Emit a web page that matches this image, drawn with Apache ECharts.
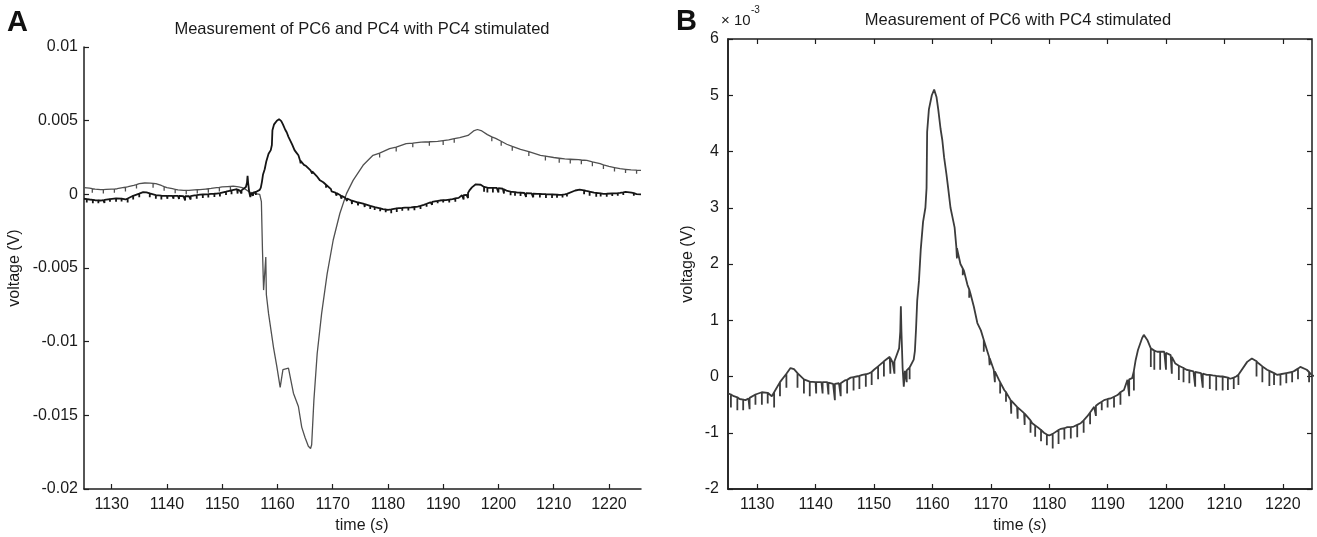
<!DOCTYPE html>
<html>
<head>
<meta charset="utf-8">
<script src="https://cdn.jsdelivr.net/npm/echarts@6/dist/echarts.min.js"></script>
<style>
html,body{margin:0;padding:0;background:#fff;}
#c{width:1317px;height:537px;}
</style>
</head>
<body>
<div id="c"></div>
<script>
// ---------- DATA (voltages in mV; time in s) ----------
// PC6 response (panel B, and dark trace of panel A): [time, mV]
const pc6Base = [
 [1125,-0.3],[1126,-0.35],[1127,-0.4],[1128,-0.42],[1128.5,-0.39],[1129,-0.35],[1130,-0.3],[1131,-0.27],
 [1132,-0.3],[1132.5,-0.35],[1133,-0.25],[1134,-0.08],[1135,0.05],[1135.7,0.15],[1136.3,0.13],[1137,0.05],
 [1138,-0.05],[1139,-0.09],[1140,-0.1],[1141,-0.1],[1142,-0.1],[1143,-0.13],[1144,-0.12],[1145,-0.07],
 [1146,-0.02],[1147,0.0],[1148,0.03],[1149,0.05],[1150,0.12],[1151,0.2],[1152,0.3],[1152.7,0.35],
 [1153.2,0.25],[1153.8,0.3],[1154.3,0.5],[1154.5,0.8],[1154.6,1.25],[1154.7,0.8],[1154.9,0.15],[1155.1,-0.18],
 [1155.3,0.1],[1155.8,0.12],[1156.3,0.18],[1156.8,0.3],[1157.0,0.45],[1157.2,0.85],[1157.4,1.35],[1157.7,1.7],
 [1158.0,2.25],[1158.4,2.75],[1158.8,3.0],[1159.0,3.35],[1159.1,4.35],[1159.4,4.75],[1159.9,5.0],[1160.3,5.1],
 [1160.7,4.97],[1161.0,4.75],[1161.4,4.4],[1161.7,4.2],[1162.0,3.9],[1162.4,3.6],[1162.7,3.35],[1163.1,3.0],
 [1163.4,2.85],[1163.8,2.65],[1164.1,2.3],[1164.8,2.0],[1165.4,1.88],[1166.0,1.63],[1166.5,1.48],[1167.1,1.24],
 [1167.7,0.95],[1168.3,0.82],[1168.8,0.65],[1169.7,0.35],[1170.5,0.12],[1171.4,-0.06],[1172.3,-0.24],[1173.4,-0.42],
 [1174.5,-0.54],[1175.7,-0.65],[1177.1,-0.83],[1178,-0.9],[1179.1,-1.0],[1180,-1.05],[1180.8,-1.0],[1182,-0.93],
 [1183.1,-0.9],[1184.2,-0.89],[1185.4,-0.83],[1186.5,-0.71],[1187.7,-0.54],[1188.5,-0.48],[1189.4,-0.42],[1190.5,-0.39],
 [1191.7,-0.33],[1192.8,-0.24],[1193.4,-0.06],[1194.2,-0.03],[1194.8,0.29],[1195.2,0.47],[1195.9,0.68],[1196.2,0.74],
 [1196.8,0.65],[1197.4,0.5],[1198.5,0.44],[1199.7,0.44],[1200.8,0.38],[1201.6,0.23],[1202.5,0.17],[1203.5,0.12],
 [1204.7,0.09],[1206,0.06],[1207,0.03],[1208,0.02],[1209.3,0.0],[1210,0.0],[1211,-0.04],[1212,0.0],
 [1212.7,0.06],[1213.9,0.26],[1214.7,0.32],[1215.9,0.23],[1217.3,0.12],[1219,0.03],[1220.7,0.06],[1222,0.1],
 [1223,0.17],[1224.1,0.12],[1225,0.02],[1225.8,0.0]
];
// PC6 downward noise spikes: [time, level, spike bottom] in mV
const pc6Spikes = [
 [1125.5,-0.32,-0.55],[1126.6,-0.37,-0.6],[1127.6,-0.41,-0.6],[1128.7,-0.38,-0.58],[1129.7,-0.32,-0.5],
 [1130.8,-0.28,-0.5],[1131.8,-0.29,-0.48],[1132.9,-0.28,-0.55],[1133.9,-0.1,-0.35],[1135.0,0.05,-0.2],
 [1136.9,0.06,-0.2],[1138.0,-0.05,-0.3],[1139.0,-0.09,-0.35],[1140.1,-0.1,-0.3],[1141.2,-0.1,-0.3],
 [1142.2,-0.11,-0.32],[1143.3,-0.13,-0.42],[1144.3,-0.12,-0.35],[1145.4,-0.06,-0.3],[1146.5,-0.01,-0.25],
 [1147.5,0.01,-0.22],[1148.6,0.04,-0.18],[1149.6,0.08,-0.15],[1150.7,0.18,-0.05],[1151.7,0.27,0.0],
 [1152.8,0.33,0.05],[1153.5,0.27,0.05],[1155.6,0.11,-0.1],[1156.1,0.16,-0.05],
 [1164.2,2.28,2.1],[1165.2,1.92,1.8],[1166.3,1.55,1.4],[1168.8,0.65,0.44],[1169.8,0.33,0.2],
 [1170.7,0.09,-0.1],[1171.6,-0.1,-0.3],[1172.6,-0.28,-0.45],[1173.5,-0.43,-0.66],[1174.6,-0.55,-0.75],
 [1175.8,-0.66,-0.86],[1176.8,-0.78,-1.0],[1177.6,-0.87,-1.07],[1178.6,-0.95,-1.15],[1179.6,-1.03,-1.22],
 [1180.6,-1.02,-1.28],[1181.6,-0.95,-1.2],[1182.6,-0.92,-1.12],[1183.7,-0.9,-1.1],[1184.8,-0.86,-1.08],
 [1185.9,-0.78,-1.0],[1187.0,-0.64,-0.85],[1188.0,-0.52,-0.7],[1189.0,-0.45,-0.6],[1190.0,-0.4,-0.55],
 [1191.1,-0.36,-0.55],[1192.2,-0.28,-0.5],[1193.7,-0.05,-0.35],[1194.5,0.1,-0.25],[1197.4,0.5,0.17],
 [1198.0,0.46,0.12],[1199.0,0.44,0.12],[1200.0,0.42,0.12],[1201.0,0.35,0.05],[1202.2,0.19,-0.06],
 [1203.0,0.15,-0.1],[1204.0,0.11,-0.12],[1205.0,0.08,-0.18],[1206.3,0.05,-0.2],[1207.5,0.03,-0.22],
 [1208.6,0.01,-0.25],[1209.7,0.0,-0.25],[1210.6,-0.02,-0.24],[1211.6,-0.02,-0.22],[1212.4,0.03,-0.15],
 [1215.5,0.27,0.0],[1216.5,0.18,-0.1],[1217.7,0.1,-0.17],[1218.5,0.06,-0.15],[1219.6,0.04,-0.16],
 [1220.6,0.06,-0.12],[1221.6,0.08,-0.1],[1222.6,0.14,-0.05],[1224.5,0.08,-0.1]
];
// PC4 (stimulated) trace of panel A: [time, mV]
const pc4Base = [
 [1125,0.45],[1126,0.42],[1127,0.35],[1128,0.32],[1129,0.33],[1130,0.35],[1131,0.38],[1132,0.45],
 [1133,0.52],[1134,0.61],[1135,0.72],[1136,0.77],[1137,0.76],[1138,0.72],[1139,0.6],[1140,0.45],
 [1141,0.38],[1142,0.3],[1143,0.27],[1144,0.27],[1145,0.3],[1146,0.32],[1147,0.36],[1148,0.4],
 [1149,0.45],[1150,0.5],[1151,0.53],[1152,0.55],[1153,0.5],[1153.6,0.45],[1154.2,0.35],[1155,0.15],
 [1156,0.05],[1156.8,0.0],[1157.1,-0.5],[1157.3,-3.8],[1157.5,-6.5],[1157.9,-4.25],[1158.0,-6.8],[1158.4,-8.1],
 [1159.3,-10.4],[1159.9,-11.7],[1160.5,-13.1],[1161.0,-11.9],[1162,-11.8],[1162.9,-13.5],[1163.8,-14.4],[1164.4,-15.8],
 [1165,-16.5],[1165.6,-17.1],[1166.0,-17.25],[1166.2,-17.0],[1166.6,-14.0],[1167.2,-10.8],[1168.0,-8.1],[1169.0,-5.4],
 [1170.1,-3.1],[1171.3,-1.3],[1172.5,0.05],[1173.7,0.95],[1175.5,1.97],[1177.3,2.65],[1180.3,3.1],[1183.3,3.44],
 [1186,3.55],[1189,3.6],[1191,3.7],[1193,3.85],[1194.5,4.0],[1195.5,4.3],[1196.2,4.4],[1197,4.3],
 [1198,4.05],[1199.5,3.8],[1201.5,3.4],[1204,3.05],[1207.6,2.65],[1210,2.5],[1212,2.4],[1214.5,2.35],
 [1216,2.3],[1218.4,2.08],[1220,1.9],[1222,1.74],[1224,1.66],[1225.8,1.63]
];
const pc4Spikes = [
 [1126.5,0.38,0.1],[1128.5,0.32,0.05],[1130.5,0.36,0.1],[1132.5,0.48,0.2],[1134.5,0.66,0.4],
 [1137.5,0.74,0.45],[1139.5,0.52,0.25],[1141.5,0.34,0.08],[1143.5,0.27,0.0],[1145.5,0.31,0.05],
 [1147.5,0.38,0.1],[1149.5,0.47,0.2],[1151.5,0.54,0.3],[1178.5,2.8,2.5],[1181.5,3.2,2.9],
 [1184.5,3.48,3.2],[1187.5,3.57,3.3],[1190,3.65,3.35],[1192,3.78,3.5],[1198.8,3.9,3.6],
 [1200.5,3.6,3.3],[1202.5,3.25,2.95],[1205.5,2.9,2.6],[1208.5,2.6,2.3],[1211,2.45,2.15],
 [1213,2.38,2.1],[1215,2.33,2.05],[1217,2.2,1.9],[1219,2.0,1.72],[1221,1.82,1.55],
 [1223,1.7,1.45],[1225,1.64,1.4]
];
// tick values / labels
const timeTicks = [1130,1140,1150,1160,1170,1180,1190,1200,1210,1220];
const titleA = 'Measurement of PC6 and PC4 with PC4 stimulated';
const titleB = 'Measurement of PC6 with PC4 stimulated';
const yNameText = 'voltage (V)';

// ---------- build ----------
function build(base, spikes) {
  const pts = base.map(p => [p[0], p[1]]);
  spikes.forEach(s => { pts.push([s[0], s[1]], [s[0], s[2]], [s[0], s[1]]); });
  return pts.sort((a, b) => a[0] - b[0]);
}
const pc6 = build(pc6Base, pc6Spikes);
const pc4 = build(pc4Base, pc4Spikes);

const FONT = "'Liberation Sans', Arial, sans-serif";
const TXT = '#1a1a1a';
const AX = '#1e1e1e';
const lbl = {color: TXT, fontSize: 16, fontFamily: FONT};
const plain = v => String(v);

const chart = echarts.init(document.getElementById('c'), null, {renderer: 'canvas'});
chart.setOption({
  animation: false,
  backgroundColor: '#fff',
  grid: [
    {left: 84, top: 47, width: 557, height: 442, show: false},
    {left: 728, top: 39, width: 584, height: 450, show: true, borderColor: AX, borderWidth: 1.5, backgroundColor: 'transparent'}
  ],
  xAxis: [
    {gridIndex: 0, type: 'value', min: 1125, max: 1225.8, position: 'bottom',
     axisLine: {show: true, onZero: false, lineStyle: {color: AX, width: 1.5}},
     axisTick: {show: true, inside: true, length: 5, customValues: timeTicks, lineStyle: {color: AX, width: 1.2}},
     axisLabel: Object.assign({margin: 8, customValues: timeTicks, formatter: plain}, lbl),
     splitLine: {show: false}},
    {gridIndex: 1, type: 'value', min: 1125, max: 1225, position: 'bottom',
     axisLine: {show: true, onZero: false, lineStyle: {color: AX, width: 1.5}},
     axisTick: {show: true, inside: true, length: 5, customValues: timeTicks, lineStyle: {color: AX, width: 1.2}},
     axisLabel: Object.assign({margin: 8, customValues: timeTicks, formatter: plain}, lbl),
     splitLine: {show: false}},
    {gridIndex: 1, type: 'value', min: 1125, max: 1225, position: 'top',
     axisLine: {show: false, onZero: false},
     axisTick: {show: true, inside: true, length: 5, customValues: timeTicks, lineStyle: {color: AX, width: 1.2}},
     axisLabel: {show: false}, splitLine: {show: false}}
  ],
  yAxis: [
    {gridIndex: 0, type: 'value', min: -20, max: 10, interval: 5,
     axisLine: {show: true, onZero: false, lineStyle: {color: AX, width: 1.5}},
     axisTick: {show: true, inside: true, length: 5, lineStyle: {color: AX, width: 1.2}},
     axisLabel: Object.assign({margin: 6, formatter: v => String(v / 1000)}, lbl),
     splitLine: {show: false}},
    {gridIndex: 1, type: 'value', min: -2, max: 6, interval: 1,
     axisLine: {show: true, onZero: false, lineStyle: {color: AX, width: 1.5}},
     axisTick: {show: true, inside: true, length: 5, lineStyle: {color: AX, width: 1.2}},
     axisLabel: Object.assign({margin: 9, formatter: plain}, lbl),
     splitLine: {show: false}},
    {gridIndex: 1, type: 'value', min: -2, max: 6, interval: 1, position: 'right',
     axisLine: {show: false, onZero: false},
     axisTick: {show: true, inside: true, length: 5, lineStyle: {color: AX, width: 1.2}},
     axisLabel: {show: false}, splitLine: {show: false}}
  ],
  series: [
    {name: 'PC4', type: 'line', xAxisIndex: 0, yAxisIndex: 0, data: pc4, showSymbol: false,
     lineStyle: {color: '#505050', width: 1.3}, z: 2},
    {name: 'PC6', type: 'line', xAxisIndex: 0, yAxisIndex: 0, data: pc6, showSymbol: false,
     lineStyle: {color: '#151515', width: 1.8}, z: 3},
    {name: 'PC6 B', type: 'line', xAxisIndex: 1, yAxisIndex: 1, data: pc6, showSymbol: false,
     lineStyle: {color: '#3c3c3c', width: 1.8}, z: 3}
  ],
  graphic: [
    {type: 'text', left: 7, top: 8, style: {text: 'A', font: "bold 29px " + FONT, fill: '#111'}},
    {type: 'text', left: 676, top: 7, style: {text: 'B', font: "bold 29px " + FONT, fill: '#111'}},
    {type: 'text', x: 362, y: 29, style: {text: titleA, font: "16.5px " + FONT, fill: TXT, textAlign: 'center', textVerticalAlign: 'middle'}},
    {type: 'text', x: 1018, y: 20, style: {text: titleB, font: "16.5px " + FONT, fill: TXT, textAlign: 'center', textVerticalAlign: 'middle'}},
    {type: 'text', x: 15, y: 268, rotation: Math.PI / 2, style: {text: yNameText, font: "16px " + FONT, fill: TXT, textAlign: 'center', textVerticalAlign: 'middle'}},
    {type: 'text', x: 688, y: 264, rotation: Math.PI / 2, style: {text: yNameText, font: "16px " + FONT, fill: TXT, textAlign: 'center', textVerticalAlign: 'middle'}},
    {type: 'text', x: 362, y: 526, style: {text: 'time ({i|s})', font: "16px " + FONT, fill: TXT, textAlign: 'center', textVerticalAlign: 'middle',
      rich: {i: {fontStyle: 'italic', fontSize: 16, fontFamily: FONT, fill: TXT}}}},
    {type: 'text', x: 1020, y: 526, style: {text: 'time ({i|s})', font: "16px " + FONT, fill: TXT, textAlign: 'center', textVerticalAlign: 'middle',
      rich: {i: {fontStyle: 'italic', fontSize: 16, fontFamily: FONT, fill: TXT}}}},
    {type: 'text', x: 721, y: 21, style: {text: '× 10', font: "15px " + FONT, fill: TXT, textAlign: 'left', textVerticalAlign: 'middle'}},
    {type: 'text', x: 751, y: 10, style: {text: '-3', font: "10px " + FONT, fill: TXT, textAlign: 'left', textVerticalAlign: 'middle'}}
  ]
});
</script>
</body>
</html>
